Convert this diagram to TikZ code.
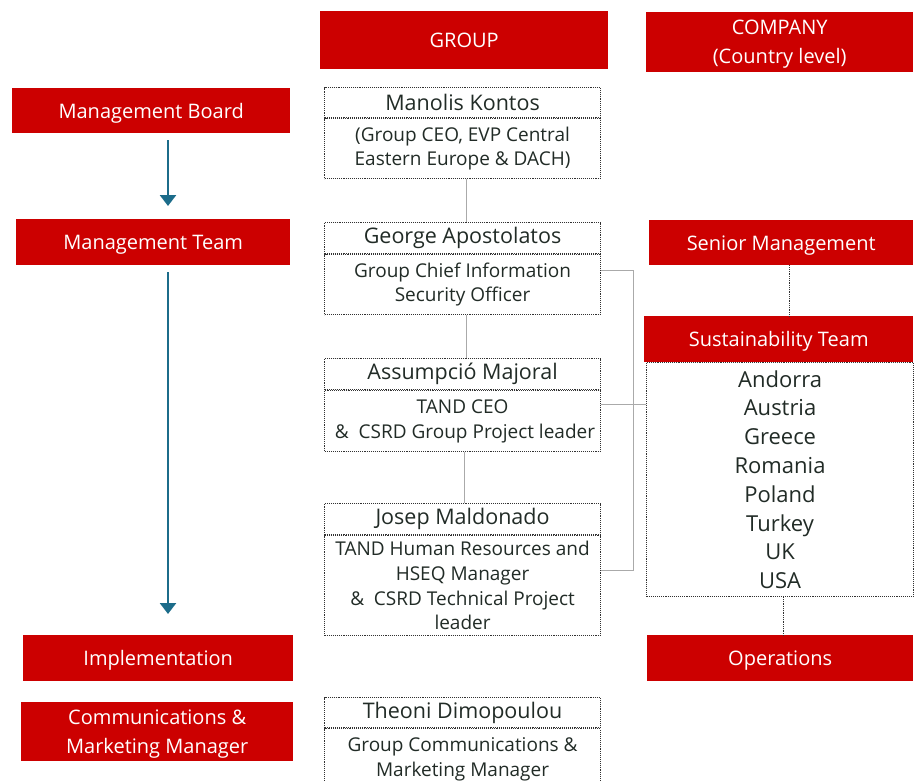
\documentclass[tikz,border=0pt]{standalone}
\usepackage{fontspec}
\setmainfont{Open Sans}
\usetikzlibrary{arrows.meta,positioning,calc}
\definecolor{headred}{RGB}{204,0,0}
\definecolor{flowteal}{RGB}{28,108,138}
\definecolor{boxgray}{RGB}{50,50,50}
\definecolor{linkgray}{RGB}{170,170,170}
\definecolor{inktext}{RGB}{33,43,38}
\begin{document}
\begin{tikzpicture}[x=1pt,y=-1pt,
    redbox/.style={fill=headred, text=white, anchor=north west, inner sep=2pt,
      align=center, text depth=0pt, font=\fontsize{20}{29}\selectfont},
    namebox/.style={draw=boxgray, densely dotted, line width=1.1pt, anchor=north west,
      minimum width=276pt, text=inktext, font=\fontsize{21.5}{24}\selectfont},
    rolebox/.style={draw=boxgray, densely dotted, line width=1.1pt, anchor=north,
      minimum width=276pt, text=inktext, align=center, font=\fontsize{19}{24.7}\selectfont},
    flow/.style={flowteal, line width=2.6pt, -{Triangle[width=16pt,length=11pt]}},
    link/.style={linkgray, line width=0.8pt},
    dotlink/.style={boxgray, densely dotted, line width=0.8pt}]
  \useasboundingbox (0,0) rectangle (914,780);

  % column heads
  \node[redbox, minimum width=288pt, minimum height=58pt] (group) at (320,11) {GROUP};
  \node[redbox, minimum width=267pt, minimum height=60pt] (company) at (646,12) {COMPANY\\(Country level)};

  % left column
  \node[redbox, minimum width=278pt, minimum height=45pt] (board) at (12,88) {Management Board};
  \node[redbox, minimum width=274pt, minimum height=46pt] (mteam) at (16,219) {Management Team};
  \node[redbox, minimum width=270pt, minimum height=46pt] (impl) at (23,635) {Implementation};
  \node[redbox, minimum width=272pt, minimum height=59pt] (comms) at (21,702) {Communications \&\\Marketing Manager};
  \coordinate (a1s) at (168,140);
  \coordinate (a1e) at (168,206);
  \coordinate (a2s) at (168,272);
  \coordinate (a2e) at (168,614);
  \draw[flow] (a1s) -- (a1e);
  \draw[flow] (a2s) -- (a2e);

  % group column
  \node[namebox, minimum height=30pt] (mk) at (324,87) {Manolis Kontos};
  \node[rolebox, minimum height=60pt] (mkr) at (mk.south) {(Group CEO, EVP Central\\Eastern Europe \& DACH)};
  \node[namebox, minimum height=31pt] (ga) at (324,222) {George Apostolatos};
  \node[rolebox, minimum height=60pt] (gar) at (ga.south) {Group Chief Information\\Security Officer};
  \node[namebox, minimum height=31pt] (am) at (324,358) {Assumpció Majoral};
  \node[rolebox, minimum height=61pt] (amr) at (am.south) {TAND CEO\\\ \&\ \ CSRD Group Project leader};
  \node[namebox, minimum height=31pt] (jm) at (324,503) {Josep Maldonado};
  \node[rolebox, minimum height=100pt] (jmr) at (jm.south) {TAND Human Resources and\\HSEQ Manager\\\&\ \ CSRD Technical Project\\leader};
  \node[namebox, minimum height=30pt] (td) at (324,697) {Theoni Dimopoulou};
  \node[rolebox, minimum height=62pt] (tdr) at (td.south) {Group Communications \&\\Marketing Manager};
  \draw[link] ([xshift=4pt]mkr.south) -- ([xshift=4pt]ga.north);
  \draw[link] ([xshift=4pt]gar.south) -- ([xshift=4pt]am.north);
  \draw[link] ([xshift=2pt]amr.south) -- ([xshift=2pt]jm.north);

  % company column
  \node[redbox, minimum width=264pt, minimum height=45pt] (senior) at (649,220) {Senior Management};
  \node[redbox, minimum width=269pt, minimum height=46pt] (susteam) at (644,316) {Sustainability Team};
  \node[namebox, minimum width=267pt, minimum height=234pt, align=center,
    font=\fontsize{22}{28.8}\selectfont] (countries) at (646,362)
    {Andorra\\Austria\\Greece\\Romania\\Poland\\Turkey\\UK\\USA};
  \node[redbox, minimum width=266pt, minimum height=46pt] (ops) at (647,635) {Operations};
  \draw[dotlink] ([xshift=8pt]senior.south) -- ([xshift=8pt]senior.south |- susteam.north);
  \draw[dotlink] ([xshift=3pt]countries.south) -- ([xshift=3pt]countries.south |- ops.north);

  % cross links
  \coordinate (bustop) at (633,270);
  \coordinate (busbot) at (633,570);
  \coordinate (tap) at (633,404);
  \draw[link] (gar.east |- bustop) -- (bustop) -- (busbot) -- (jmr.east |- busbot);
  \draw[link] (amr.east |- tap) -- (countries.west |- tap);
\end{tikzpicture}
\end{document}
